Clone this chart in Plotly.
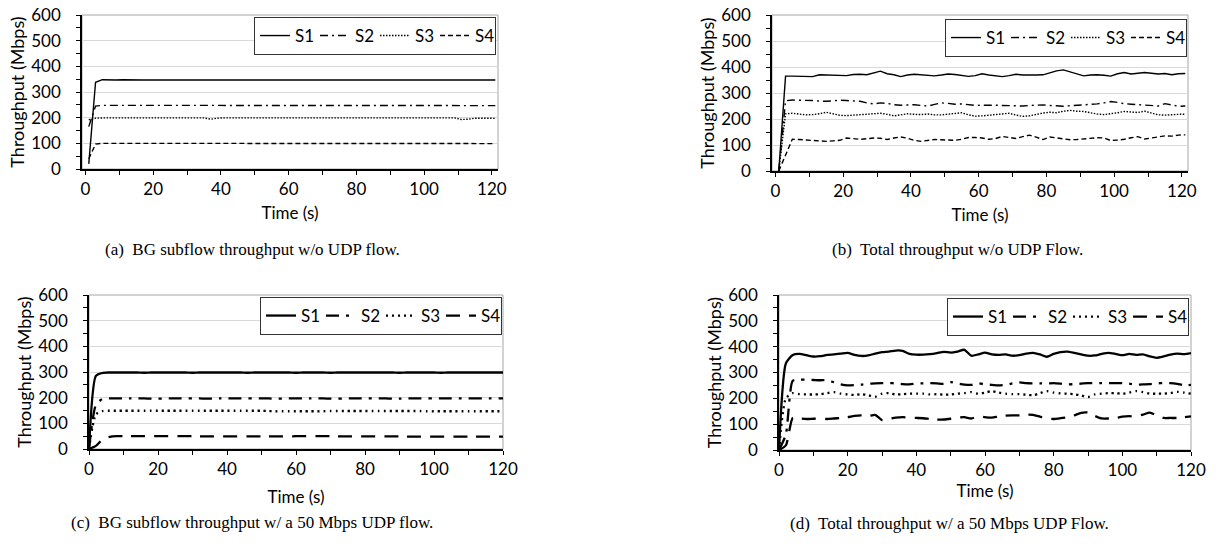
import plotly.graph_objects as go

# ---------------- data ----------------
# panels (a),(b): samples every 2 s starting at t = 1 s
t_ab = list(range(1, 122, 2))
# panels (c),(d): samples every 2 s starting at t = 0 s
t_cd = list(range(0, 121, 2))

series_names = ["S1", "S2", "S3", "S4"]

# (a) BG subflow throughput w/o UDP flow
a_s1 = [20, 338, 348, 347, 347, 348, 347, 347, 347, 347, 348, 347, 347, 347, 347, 347, 347, 347, 348, 347,
        347, 346, 346, 347, 347, 347, 348, 347, 347, 347, 347, 347, 347, 346, 347, 347, 347, 346, 346, 347,
        347, 347, 347, 348, 347, 347, 347, 347, 347, 347, 347, 347, 347, 347, 347, 347, 347, 347, 347, 347, 347]
a_s2 = [165, 245, 248, 248, 248, 247, 248, 248, 248, 247, 247, 248, 248, 248, 247, 248, 248, 247, 247, 248,
        248, 248, 247, 247, 248, 248, 248, 248, 247, 248, 248, 248, 247, 247, 248, 248, 248, 247, 247, 248,
        248, 247, 247, 248, 248, 248, 247, 247, 248, 248, 248, 248, 247, 248, 248, 247, 248, 248, 247, 247, 247]
a_s3 = [192, 198, 199, 199, 199, 199, 199, 199, 199, 199, 199, 199, 199, 199, 199, 199, 199, 199, 194, 198,
        199, 199, 199, 199, 199, 199, 199, 199, 199, 199, 199, 199, 199, 199, 198, 197, 198, 199, 199, 199,
        199, 199, 199, 199, 199, 199, 199, 199, 199, 199, 199, 199, 199, 199, 199, 193, 194, 198, 199, 198, 197]
a_s4 = [40, 97, 100, 100, 100, 100, 100, 100, 100, 100, 100, 100, 100, 100, 100, 100, 100, 100, 100, 100,
        100, 100, 100, 100, 100, 100, 100, 100, 100, 100, 100, 100, 100, 100, 99, 99, 99, 99, 99, 99,
        99, 99, 99, 99, 99, 99, 99, 99, 99, 99, 99, 99, 99, 99, 99, 99, 99, 99, 99, 99, 99]

# (b) Total throughput w/o UDP flow
b_s1 = [0, 365, 365, 364, 364, 363, 370, 369, 367, 366, 367, 371, 372, 370, 376, 384, 374, 370, 363, 369,
        372, 370, 366, 366, 369, 373, 371, 368, 364, 367, 374, 369, 365, 363, 367, 372, 369, 368, 369, 370,
        377, 385, 389, 382, 373, 366, 369, 370, 368, 365, 374, 379, 373, 376, 379, 376, 373, 375, 370, 374, 375]
b_s2 = [0, 270, 273, 273, 272, 271, 269, 268, 270, 272, 271, 270, 268, 262, 258, 262, 260, 255, 253, 254,
        255, 252, 250, 256, 262, 260, 257, 258, 254, 252, 253, 254, 253, 252, 251, 250, 250, 252, 253, 254,
        252, 250, 249, 251, 253, 253, 255, 258, 262, 267, 264, 259, 257, 255, 253, 251, 250, 259, 253, 249, 250]
b_s3 = [0, 220, 222, 218, 216, 217, 220, 226, 219, 214, 213, 215, 216, 218, 220, 222, 218, 212, 216, 220,
        218, 217, 219, 216, 216, 219, 221, 224, 216, 211, 212, 215, 216, 219, 222, 215, 210, 212, 218, 223,
        226, 224, 230, 233, 230, 229, 224, 219, 217, 220, 224, 229, 228, 225, 230, 224, 216, 215, 217, 218, 218]
b_s4 = [0, 60, 122, 121, 119, 118, 116, 114, 116, 118, 127, 125, 122, 124, 127, 126, 121, 127, 131, 126,
        118, 114, 118, 121, 120, 119, 118, 122, 129, 129, 127, 122, 125, 133, 128, 125, 132, 138, 130, 121,
        131, 128, 123, 120, 121, 123, 126, 128, 127, 117, 119, 122, 128, 132, 123, 127, 133, 135, 134, 138, 139]

# (c) BG subflow throughput w/ a 50 Mbps UDP flow
c_s1 = [0, 285, 297, 298, 298, 298, 298, 298, 297, 298, 298, 298, 298, 298, 298, 297, 298, 298, 298, 298,
        298, 298, 298, 297, 298, 298, 298, 298, 298, 298, 297, 298, 298, 298, 298, 297, 298, 298, 298, 298,
        298, 298, 298, 298, 298, 297, 298, 298, 298, 298, 298, 297, 298, 298, 298, 298, 298, 298, 298, 298, 298]
c_s2 = [0, 172, 196, 197, 197, 197, 197, 197, 197, 196, 196, 197, 197, 197, 197, 197, 197, 196, 196, 197,
        197, 197, 197, 197, 197, 197, 197, 196, 196, 197, 197, 197, 197, 197, 197, 196, 196, 197, 197, 197,
        197, 197, 197, 197, 196, 196, 197, 197, 197, 197, 197, 197, 197, 197, 197, 197, 197, 197, 197, 197, 197]
c_s3 = [0, 135, 148, 149, 149, 149, 149, 149, 149, 149, 149, 149, 149, 149, 149, 149, 149, 149, 149, 149,
        149, 149, 149, 149, 149, 149, 148, 147, 147, 147, 147, 147, 147, 147, 147, 148, 148, 148, 148, 148,
        148, 148, 148, 148, 148, 148, 148, 148, 148, 147, 147, 147, 147, 147, 147, 147, 147, 147, 147, 147, 147]
c_s4 = [0, 12, 38, 47, 50, 50, 50, 50, 50, 50, 50, 50, 50, 50, 50, 50, 49, 49, 49, 49,
        49, 49, 49, 49, 49, 49, 49, 49, 49, 49, 50, 50, 50, 50, 50, 50, 49, 49, 49, 49,
        49, 49, 49, 49, 49, 49, 48, 48, 48, 48, 48, 48, 48, 48, 48, 48, 48, 48, 48, 48, 48]

# (d) Total throughput w/ a 50 Mbps UDP flow
d_s1 = [0, 335, 368, 372, 367, 362, 363, 368, 370, 373, 376, 368, 364, 366, 373, 379, 381, 385, 384, 372,
        369, 369, 371, 375, 380, 377, 381, 388, 365, 370, 377, 370, 368, 370, 365, 367, 373, 376, 370, 361,
        372, 379, 381, 376, 370, 365, 366, 372, 376, 372, 367, 372, 368, 370, 362, 357, 362, 369, 373, 371, 375]
d_s2 = [0, 60, 268, 272, 272, 271, 270, 270, 262, 254, 250, 251, 253, 256, 258, 259, 259, 258, 255, 254,
        257, 258, 259, 258, 256, 263, 257, 253, 252, 258, 254, 252, 250, 252, 258, 262, 259, 258, 258, 257,
        259, 257, 254, 255, 257, 259, 259, 259, 259, 259, 259, 257, 253, 254, 255, 258, 259, 259, 256, 251, 252]
d_s3 = [0, 200, 220, 216, 215, 215, 216, 220, 224, 218, 215, 213, 216, 212, 206, 218, 220, 215, 216, 218,
        218, 218, 215, 216, 214, 215, 218, 220, 224, 218, 222, 228, 222, 218, 216, 216, 214, 212, 220, 228,
        222, 219, 218, 216, 211, 205, 215, 218, 220, 220, 218, 222, 228, 224, 218, 218, 218, 220, 225, 222, 218]
d_s4 = [0, 18, 124, 122, 120, 121, 122, 120, 122, 124, 127, 132, 134, 131, 136, 116, 120, 125, 127, 125,
        124, 123, 120, 118, 118, 121, 125, 127, 122, 130, 127, 125, 130, 133, 134, 134, 137, 136, 129, 122,
        120, 123, 127, 134, 144, 145, 132, 122, 122, 124, 129, 131, 130, 137, 145, 134, 124, 124, 124, 127, 130]

captions = [
    "(a)\u00a0 BG subflow throughput w/o UDP flow.",
    "(b)\u00a0 Total throughput w/o UDP Flow.",
    "(c)\u00a0 BG subflow throughput w/ a 50 Mbps UDP flow.",
    "(d)\u00a0 Total throughput w/ a 50 Mbps UDP Flow.",
]

# ---------------- styling ----------------
W, H = 1223, 544
FONT = "Lato"
SERIF = "Liberation Serif"


def fx(px):
    return px / W


def fy(py):
    return 1 - py / H


panels = [
    dict(t=t_ab, ys=[a_s1, a_s2, a_s3, a_s4], px=(82, 498), py=(15, 169), xr=[-1, 121.8],
         thin=True, leg=(496, 17), cap=(252, 250), xstand=9),
    dict(t=t_ab, ys=[b_s1, b_s2, b_s3, b_s4], px=(772, 1188), py=(15, 171), xr=[-1, 121.8],
         thin=True, leg=(1187, 19), cap=(957, 250), xstand=9),
    dict(t=t_cd, ys=[c_s1, c_s2, c_s3, c_s4], px=(89, 503), py=(295, 449), xr=[0, 120],
         thin=False, leg=(502, 297), cap=(252, 522), xstand=13),
    dict(t=t_cd, ys=[d_s1, d_s2, d_s3, d_s4], px=(779, 1191), py=(295, 450), xr=[0, 120],
         thin=False, leg=(1189, 298), cap=(949, 523), xstand=5),
]

thin_dash = ["solid", "8px,4px,2px,4px", "1.5px,1.5px", "5px,3px"]
thick_dash = ["solid", "13px,7px,3px,7px", "2px,4px", "14px,9px"]

fig = go.Figure()
layout = dict(
    width=W, height=H, margin=dict(l=0, r=0, t=0, b=0, autoexpand=False),
    paper_bgcolor="white", plot_bgcolor="white",
    font=dict(family=FONT, size=16, color="black"),
)
annotations = []
shapes = []

for i, p in enumerate(panels):
    k = "" if i == 0 else str(i + 1)
    xa, ya = "x" + k, "y" + k
    legname = "legend" + k
    for j, (name, vals) in enumerate(zip(series_names, p["ys"])):
        fig.add_trace(go.Scatter(
            x=p["t"], y=vals, mode="lines", name=name,
            xaxis=xa, yaxis=ya, legend=legname,
            line=dict(color="black",
                      width=1.4 if p["thin"] else 2.3,
                      dash=(thin_dash if p["thin"] else thick_dash)[j],
                      shape="linear" if p["thin"] else "spline",
                      smoothing=0.6),
        ))
    xd = [fx(p["px"][0]), fx(p["px"][1])]
    yd = [fy(p["py"][1]), fy(p["py"][0])]
    layout["xaxis" + k] = dict(
        domain=xd, anchor=ya, range=p["xr"], tick0=0, dtick=20, automargin=False,
        ticks="outside", ticklen=4, tickcolor="black", tickwidth=1,
        minor=dict(tick0=0, dtick=10, ticks="outside", ticklen=4, tickcolor="black"),
        showline=True, linecolor="black", linewidth=1.5, showgrid=False, zeroline=False,
        tickfont=dict(family=FONT, size=17), ticklabelstandoff=0, ticklabeloverflow="allow",
        title=dict(text="Time (s)", font=dict(family=FONT, size=17), standoff=p["xstand"]),
    )
    layout["yaxis" + k] = dict(
        domain=yd, anchor=xa, range=[0, 600], tick0=0, dtick=100, automargin=False,
        ticks="outside", ticklen=4, tickcolor="black", tickwidth=1,
        minor=dict(tick0=0, dtick=50, ticks="outside", ticklen=4, tickcolor="black", showgrid=False),
        showline=True, linecolor="black", linewidth=1.5,
        showgrid=True, gridcolor="#d9d9d9", gridwidth=1, zeroline=False,
        tickfont=dict(family=FONT, size=17), ticklabelstandoff=12, ticklabeloverflow="allow",
        title=dict(text="Throughput (Mbps)", font=dict(family=FONT, size=18), standoff=2),
    )
    layout[legname] = dict(
        x=fx(p["leg"][0]), y=fy(p["leg"][1]), xanchor="right", yanchor="top",
        orientation="h", bgcolor="white", bordercolor="#333333", borderwidth=1,
        font=dict(family=FONT, size=17), itemwidth=30, tracegroupgap=0,
        entrywidth=15, entrywidthmode="pixels",
    )
    shapes.append(dict(type="rect", xref=xa + " domain", yref=ya + " domain",
                       x0=0, x1=1, y0=0, y1=1, line=dict(color="#a6a6a6", width=1),
                       layer="below"))
    annotations.append(dict(text=captions[i], x=fx(p["cap"][0]), y=fy(p["cap"][1]),
                            xref="paper", yref="paper", showarrow=False,
                            xanchor="center", yanchor="middle",
                            font=dict(family=SERIF, size=17, color="black")))

layout["annotations"] = annotations
layout["shapes"] = shapes
fig.update_layout(**layout)
fig.write_html("out.html",
               config={"displayModeBar": False},
               post_script="document.body.style.margin='0';document.body.style.overflow='hidden';")
